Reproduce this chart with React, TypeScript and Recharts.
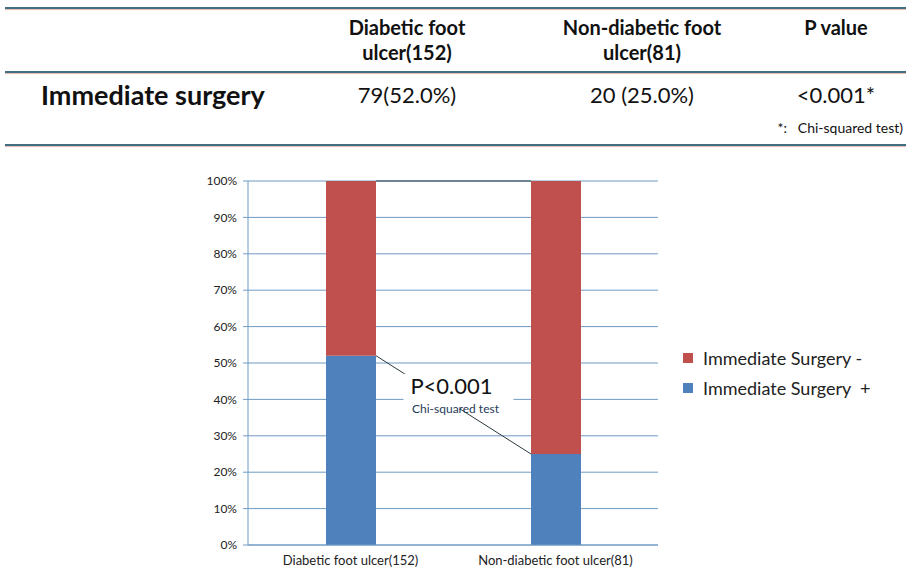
import React from 'react';
import { BarChart, Bar, XAxis, YAxis, CartesianGrid } from 'recharts';

// chart values
const categories = ['Diabetic foot ulcer(152)', 'Non-diabetic foot ulcer(81)'];
const surgeryPositive = [52, 25];
const surgeryNegative = [48, 75];
const yTicks = [0, 10, 20, 30, 40, 50, 60, 70, 80, 90, 100];

// table above the chart
const headerCols = [
  ['Diabetic foot', 'ulcer(152)'],
  ['Non-diabetic foot', 'ulcer(81)'],
  ['P value']
];
const rowLabel = 'Immediate surgery';
const rowValues = ['79(52.0%)', '20 (25.0%)', '<0.001*'];
const footNote = '*:   Chi-squared test)';

const legendItems = [
  { label: 'Immediate Surgery -', color: '#C0504D' },
  { label: 'Immediate Surgery \u00a0+', color: '#4F81BD' }
];

const data = categories.map((name, i) => ({
  name,
  pos: surgeryPositive[i],
  neg: surgeryNegative[i]
}));

const FONT = 'Lato, "Open Sans", sans-serif';
const GRID = '#6F9BC4';
const TABLE_LINE = '#3F6E82';
const colX = [407, 642, 836];

// bar tops of each series, filled while rendering so the next bar can draw a series line
const tops: Record<string, { x: number; y: number; w: number }[]> = {};

const makeShape = (key: string, withNote: boolean) => (props: any) => {
  const { x, y, width, height, fill, index } = props;
  if (!tops[key]) tops[key] = [];
  tops[key][index] = { x, y, w: width };
  const prev = index > 0 ? tops[key][index - 1] : null;
  let link = null;
  let note = null;
  if (prev) {
    const x1 = prev.x + prev.w;
    link = <line x1={x1} y1={prev.y} x2={x} y2={y} stroke="#2b3a40" strokeWidth={1} />;
    if (withNote) {
      const mx = (x1 + x) / 2;
      const my = (prev.y + y) / 2;
      note = (
        <g>
          <rect x={mx - 50} y={my - 31} width={110} height={35} fill="#fff" />
          <text x={mx - 2} y={my - 19} textAnchor="middle" dominantBaseline="central" fontSize={22} fill="#111" fontFamily={FONT}>
            P&lt;0.001
          </text>
          <text x={mx + 2} y={my + 4} textAnchor="middle" dominantBaseline="central" fontSize={12} fill="#1F3A5A" fontFamily={FONT}>
            Chi-squared test
          </text>
        </g>
      );
    }
  }
  return (
    <g>
      <rect x={x} y={y} width={width} height={height} fill={fill} />
      {link}
      {note}
    </g>
  );
};

const posShape = makeShape('pos', true);
const negShape = makeShape('neg', false);

const hLine = (top: number) => (
  <div
    style={{
      position: 'absolute',
      left: 5,
      top,
      width: 901,
      height: 2,
      background: TABLE_LINE,
      boxShadow: '0 1px 1px #e8b9b0'
    }}
  />
);

const App: React.FC = () => {
  return (
    <div
      style={{
        position: 'absolute',
        left: 0,
        top: 0,
        width: 906,
        height: 573,
        background: '#fff',
        fontFamily: FONT,
        color: '#111',
        overflow: 'hidden'
      }}
    >
      {hLine(7)}
      {hLine(71)}
      {hLine(144)}
      {headerCols.map((lines, i) =>
        lines.map((t, j) => (
          <div
            key={`${i}-${j}`}
            style={{
              position: 'absolute',
              left: colX[i] - 100,
              width: 200,
              top: 14 + j * 25,
              textAlign: 'center',
              fontWeight: 700,
              fontSize: 20,
              lineHeight: '26px'
            }}
          >
            {t}
          </div>
        ))
      )}
      <div style={{ position: 'absolute', left: 41, top: 79, fontWeight: 700, fontSize: 27, lineHeight: '32px' }}>
        {rowLabel}
      </div>
      {rowValues.map((v, i) => (
        <div
          key={v}
          style={{
            position: 'absolute',
            left: colX[i] - 100,
            width: 200,
            top: 80,
            textAlign: 'center',
            fontSize: 22,
            lineHeight: '30px'
          }}
        >
          {v}
        </div>
      ))}
      <div style={{ position: 'absolute', right: 3, top: 118, fontSize: 14, lineHeight: '20px', whiteSpace: 'pre' }}>
        {footNote}
      </div>

      <div style={{ position: 'absolute', left: 0, top: 150 }}>
        <BarChart
          width={660}
          height={423}
          data={data}
          margin={{ top: 31, right: 2, left: 208, bottom: 8 }}
          barSize={50}
          style={{ fontFamily: FONT }}
        >
          <CartesianGrid vertical={false} stroke={GRID} strokeWidth={1} />
          <XAxis
            dataKey="name"
            stroke={GRID}
            tickLine={false}
            height={20}
            tickMargin={5}
            tick={{ fontSize: 13, fill: '#222' }}
            interval={0}
          />
          <YAxis
            type="number"
            domain={[0, 100]}
            ticks={yTicks}
            width={40}
            stroke={GRID}
            tickSize={5}
            tickMargin={6}
            tickFormatter={(v: number) => `${v}%`}
            tick={{ fontSize: 12, fill: '#222' }}
          />
          <Bar dataKey="pos" stackId="a" fill="#4F81BD" shape={posShape} isAnimationActive={false} />
          <Bar dataKey="neg" stackId="a" fill="#C0504D" shape={negShape} isAnimationActive={false} />
        </BarChart>
      </div>

      <div style={{ position: 'absolute', left: 683, top: 343 }}>
        {legendItems.map((item) => (
          <div key={item.label} style={{ display: 'flex', alignItems: 'center', height: 30 }}>
            <span style={{ width: 10, height: 10, background: item.color, marginRight: 10 }} />
            <span style={{ fontSize: 18, color: '#222', whiteSpace: 'pre' }}>{item.label}</span>
          </div>
        ))}
      </div>
    </div>
  );
};

export default App;
